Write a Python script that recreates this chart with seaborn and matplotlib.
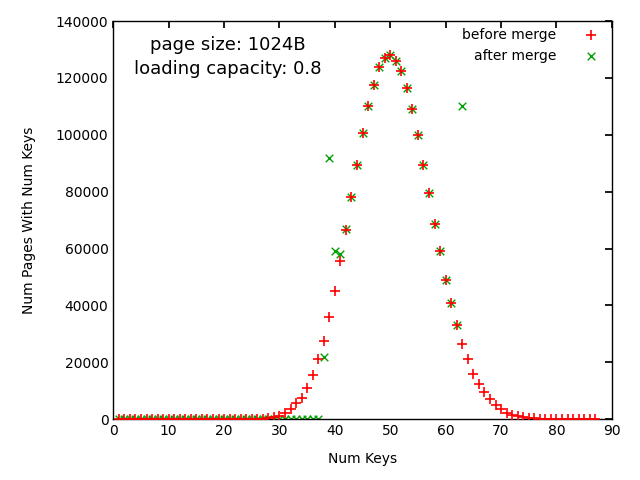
import matplotlib
matplotlib.use("Agg")
import matplotlib.pyplot as plt
import seaborn as sns
import pandas as pd

sns.set_theme(style="white")
plt.rcParams['font.family'] = ['DejaVu Sans']
plt.rcParams['text.color'] = 'black'
plt.rcParams['axes.labelcolor'] = 'black'

before_x = list(range(1, 88))
before_y = [0]*27 + [300, 600, 1200, 2000, 3500, 5500, 7500, 11000, 15500, 21000, 27500,
            36000, 45000, 55500, 66500, 78000, 89500, 100500, 110000, 117500, 124000,
            127000, 128000, 126000, 122500, 116500, 109000, 100000, 89500, 79500, 68500,
            59000, 49000, 41000, 33000, 26500, 21000, 16000, 12500, 9500, 7000, 5000,
            3500, 2300, 1500, 1000, 700, 400, 250, 150] + [0]*10
after_x = list(range(1, 64))
after_y = [0]*37 + [22000, 92000, 59000, 58000, 67000, 78000, 89500, 100500, 110000,
           117500, 124000, 127000, 128000, 126000, 122500, 116500, 109000, 100000,
           89500, 79500, 68500, 59000, 49000, 41000, 33000, 110000]

df_b = pd.DataFrame({"x": before_x, "y": before_y})
df_a = pd.DataFrame({"x": after_x, "y": after_y})

fig = plt.figure(figsize=(6.4, 4.8), dpi=100)
ax = fig.add_axes([0.177, 0.127, 0.779, 0.829])
sns.scatterplot(data=df_b, x="x", y="y", marker="+", color="#ff0000", s=45,
                linewidth=1.2, ax=ax, label="before merge", zorder=3)
sns.scatterplot(data=df_a, x="x", y="y", marker="x", color="#00a000", s=30,
                linewidth=1.0, ax=ax, label="after merge", zorder=2)
ax.set_xlim(0, 90)
ax.set_ylim(0, 140000)
ax.set_xticks(range(0, 91, 10))
ax.set_yticks(range(0, 140001, 20000))
ax.tick_params(direction="in", top=True, right=True, length=5, labelsize=10, colors="black")
for s in ax.spines.values():
    s.set_color("black"); s.set_linewidth(1)
ax.set_xlabel("Num Keys", fontsize=10, labelpad=10)
ax.set_ylabel("Num Pages With Num Keys", fontsize=10, labelpad=14)
ax.text(0.23, 0.94, "page size: 1024B", transform=ax.transAxes, ha="center", va="center", fontsize=13)
ax.text(0.23, 0.88, "loading capacity: 0.8", transform=ax.transAxes, ha="center", va="center", fontsize=13)
leg = ax.legend(loc="upper right", frameon=False, markerfirst=False, fontsize=10,
                borderaxespad=0.1, handletextpad=1.5)
fig.savefig("out.png", dpi=100)
